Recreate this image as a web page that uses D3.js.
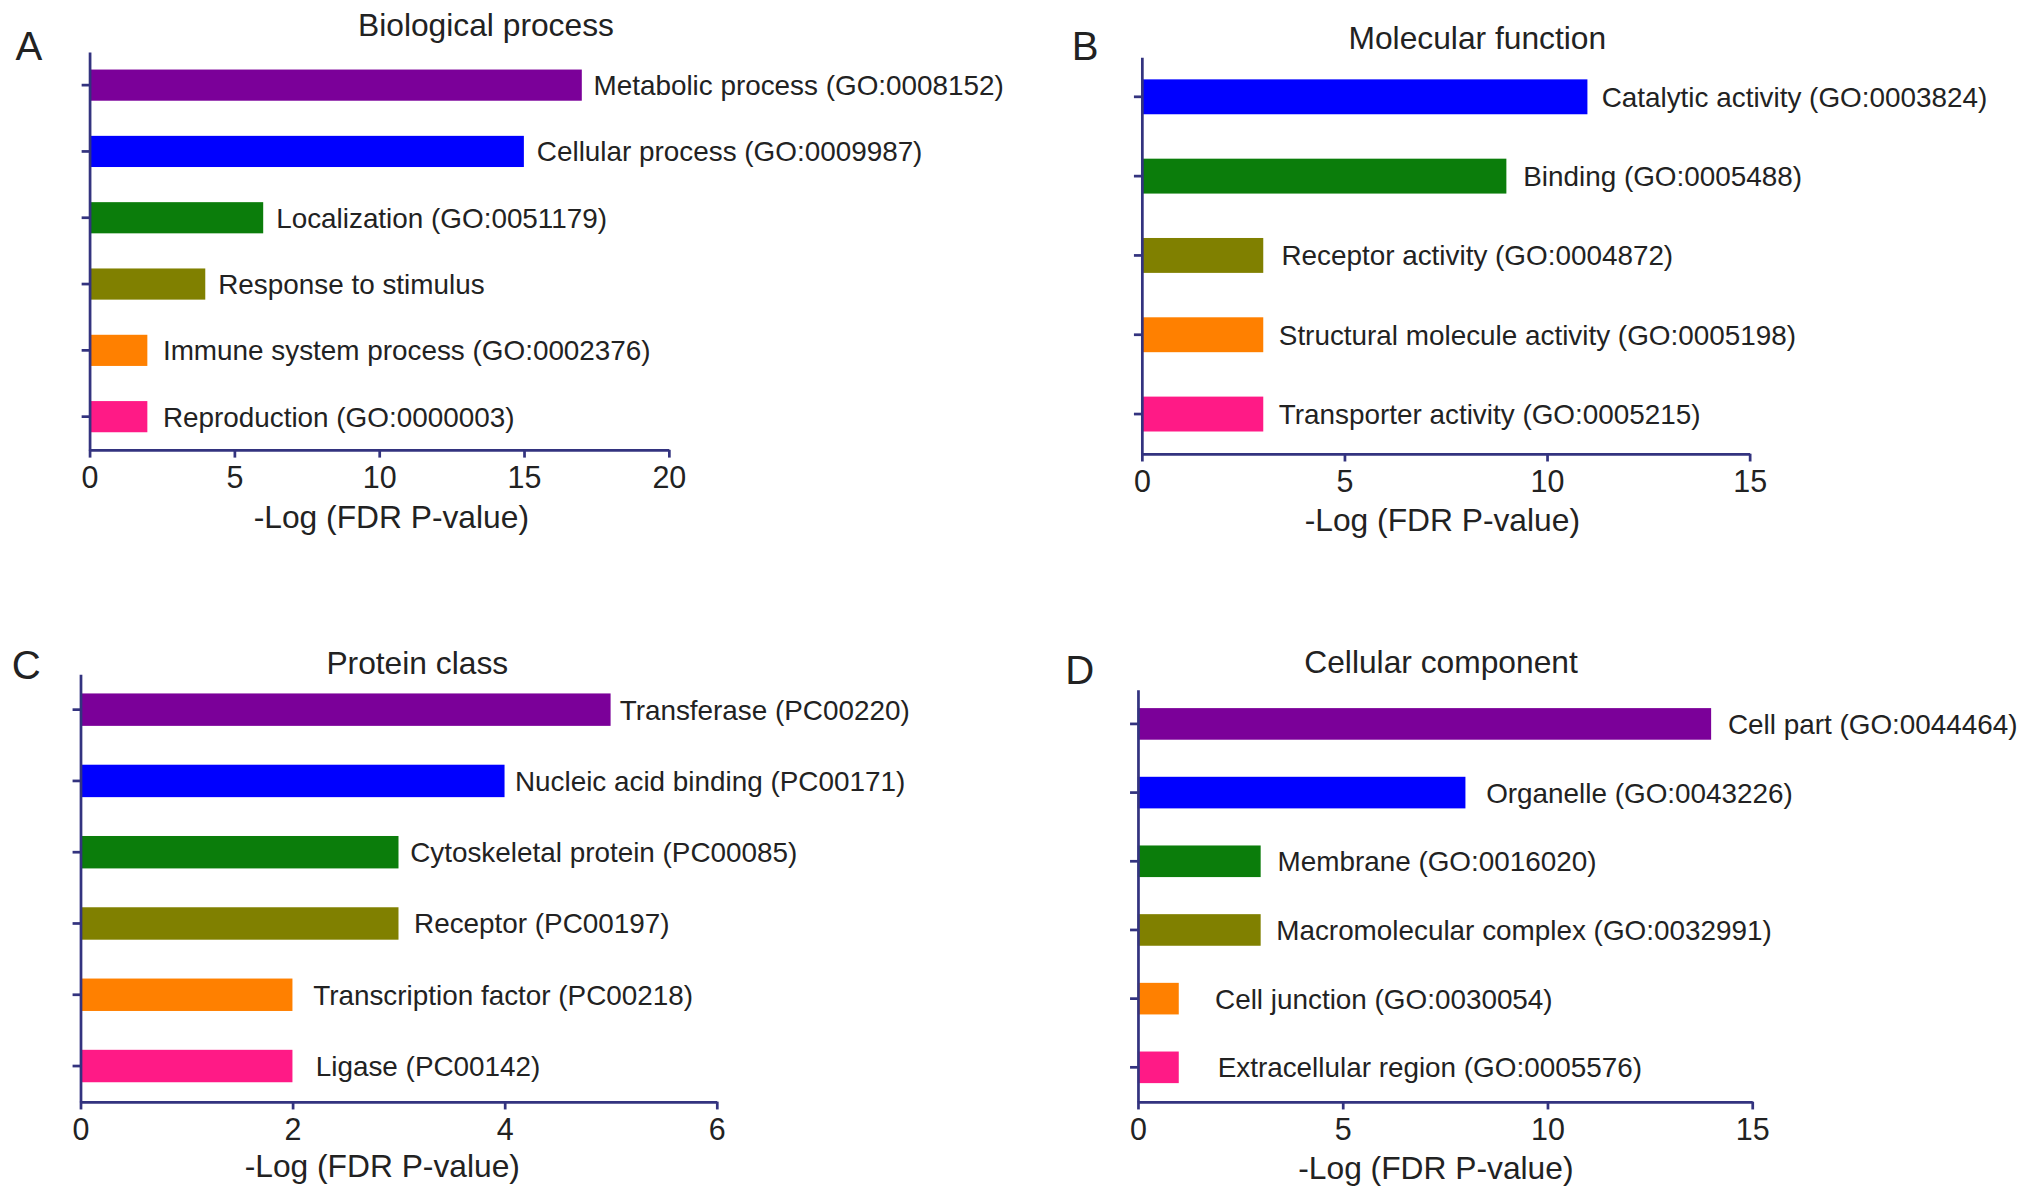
<!DOCTYPE html>
<html>
<head>
<meta charset="utf-8">
<script src="https://cdn.jsdelivr.net/npm/d3@7/dist/d3.min.js"></script>
<style>
  html, body { margin: 0; padding: 0; background: #fff; }
  svg { display: block; }
  text { font-family: "Liberation Sans", Arial, Helvetica, sans-serif; fill: #222; }
</style>
</head>
<body>
<svg id="chart" width="2032" height="1199" viewBox="0 0 1568 925"></svg>
<script>
// ---------- DATA ----------
const barColors = ["#7b0099", "#0000ff", "#0b7d0b", "#808000", "#ff8000", "#ff1a86"];

const bpCategories = ["Metabolic process (GO:0008152)", "Cellular process (GO:0009987)", "Localization (GO:0051179)",
  "Response to stimulus", "Immune system process (GO:0002376)", "Reproduction (GO:0000003)"];
const bpValues = [17, 15, 6, 4, 2, 2];
const bpTicks = [0, 5, 10, 15, 20];

const mfCategories = ["Catalytic activity (GO:0003824)", "Binding (GO:0005488)", "Receptor activity (GO:0004872)",
  "Structural molecule activity (GO:0005198)", "Transporter activity (GO:0005215)"];
const mfValues = [11, 9, 3, 3, 3];
const mfColors = ["#0000ff", "#0b7d0b", "#808000", "#ff8000", "#ff1a86"];
const mfTicks = [0, 5, 10, 15];

const pcCategories = ["Transferase (PC00220)", "Nucleic acid binding (PC00171)", "Cytoskeletal protein (PC00085)",
  "Receptor (PC00197)", "Transcription factor (PC00218)", "Ligase (PC00142)"];
const pcValues = [5, 4, 3, 3, 2, 2];
const pcTicks = [0, 2, 4, 6];

const ccCategories = ["Cell part (GO:0044464)", "Organelle (GO:0043226)", "Membrane (GO:0016020)",
  "Macromolecular complex (GO:0032991)", "Cell junction (GO:0030054)", "Extracellular region (GO:0005576)"];
const ccValues = [14, 8, 3, 3, 1, 1];
const ccTicks = [0, 5, 10, 15];

const xAxisTitle = "-Log (FDR P-value)";

// ---------- LAYOUT (display units of the viewBox) ----------
const panels = [
  { letter: "A", title: "Biological process", cats: bpCategories, vals: bpValues, colors: barColors, ticks: bpTicks,
    x0: 69, x1: 516, y0: 40, y1: 347, pad: 0.53,
    titleX: 375, titleY: 28, letterX: 12, letterY: 46, axisTitleX: 302, axisTitleY: 407,
    gaps: [9, 10, 10, 10, 12, 12] },
  { letter: "B", title: "Molecular function", cats: mfCategories, vals: mfValues, colors: mfColors, ticks: mfTicks,
    x0: 881, x1: 1350, y0: 44, y1: 350, pad: 0.56,
    titleX: 1140, titleY: 38, letterX: 827, letterY: 46, axisTitleX: 1113, axisTitleY: 410,
    gaps: [11, 13, 14, 12, 12] },
  { letter: "C", title: "Protein class", cats: pcCategories, vals: pcValues, colors: barColors, ticks: pcTicks,
    x0: 62, x1: 553, y0: 520, y1: 850, pad: 0.545,
    titleX: 322, titleY: 520, letterX: 9, letterY: 524, axisTitleX: 295, axisTitleY: 908,
    gaps: [7, 8, 9, 12, 16, 18] },
  { letter: "D", title: "Cellular component", cats: ccCategories, vals: ccValues, colors: barColors, ticks: ccTicks,
    x0: 878, x1: 1352, y0: 532, y1: 850, pad: 0.54,
    titleX: 1112, titleY: 519, letterX: 822, letterY: 528, axisTitleX: 1108, axisTitleY: 910,
    gaps: [13, 16, 13, 12, 28, 30] }
];

const axisColor = "#33337f";
const svg = d3.select("#chart");

panels.forEach(p => {
  const g = svg.append("g");
  const maxTick = p.ticks[p.ticks.length - 1];
  const x = d3.scaleLinear().domain([0, maxTick]).range([p.x0, p.x1]);
  const y = d3.scaleBand().domain(p.cats).range([p.y0, p.y1]).paddingInner(p.pad).paddingOuter(p.pad / 2);

  // bars
  g.selectAll("rect.bar").data(p.cats).enter().append("rect")
    .attr("class", "bar")
    .attr("x", x(0))
    .attr("y", d => y(d))
    .attr("width", (d, i) => x(p.vals[i]) - x(0))
    .attr("height", y.bandwidth())
    .attr("fill", (d, i) => p.colors[i]);

  // bar labels
  g.selectAll("text.lab").data(p.cats).enter().append("text")
    .attr("class", "lab")
    .attr("x", (d, i) => x(p.vals[i]) + p.gaps[i])
    .attr("y", d => y(d) + y.bandwidth() / 2)
    .attr("dy", "0.36em")
    .attr("font-size", 21.5)
    .text(d => d);

  // y axis
  const ya = g.append("g").attr("transform", `translate(${p.x0},0)`)
    .call(d3.axisLeft(y).tickSize(6).tickSizeOuter(0).tickFormat(""));
  ya.selectAll("path,line").attr("stroke", axisColor).attr("stroke-width", 2.1);

  // x axis
  const xa = g.append("g").attr("transform", `translate(0,${p.y1})`)
    .call(d3.axisBottom(x).tickValues(p.ticks).tickFormat(d3.format("d"))
      .tickSize(6).tickSizeOuter(0).tickPadding(7));
  xa.selectAll("path,line").attr("stroke", axisColor).attr("stroke-width", 2.1);
  xa.selectAll("text").attr("font-size", 23.5).attr("fill", "#222")
    .attr("font-family", '"Liberation Sans", Arial, Helvetica, sans-serif');

  // axis title
  g.append("text").attr("x", p.axisTitleX).attr("y", p.axisTitleY)
    .attr("text-anchor", "middle").attr("font-size", 24.5).text(xAxisTitle);

  // panel title
  g.append("text").attr("x", p.titleX).attr("y", p.titleY)
    .attr("text-anchor", "middle").attr("font-size", 24.5).text(p.title);

  // panel letter
  g.append("text").attr("x", p.letterX).attr("y", p.letterY)
    .attr("font-size", 31).text(p.letter);
});
</script>
</body>
</html>
